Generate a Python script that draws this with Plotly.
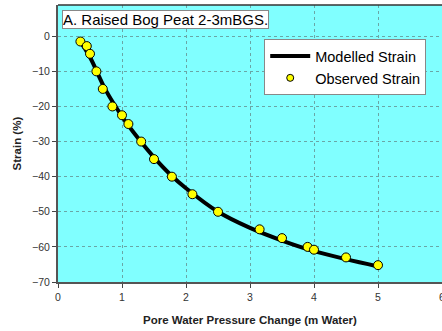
import plotly.graph_objects as go

# Observed data
obs_x = [0.35, 0.45, 0.5, 0.6, 0.7, 0.85, 1.0, 1.1, 1.3, 1.5, 1.78, 2.1, 2.5, 3.15, 3.5, 3.9, 4.0, 4.5, 5.0]
obs_y = [-1.5, -2.8, -5, -10, -15, -20, -22.5, -25, -30, -35, -40, -45, -50, -55, -57.5, -60, -60.8, -63, -65.2]

# Modelled curve
mod_x = [0.33, 0.5, 0.75, 1.0, 1.25, 1.5, 1.75, 2.0, 2.5, 3.0, 3.5, 4.0, 4.5, 5.0]
mod_y = [-1.0, -6.0, -15.5, -22.8, -29.0, -34.5, -39.3, -43.3, -50.0, -54.6, -58.2, -61.2, -63.5, -65.6]

x_ticks = [0, 1, 2, 3, 4, 5, 6]
y_ticks = [0, -10, -20, -30, -40, -50, -60, -70]

fig = go.Figure()
fig.add_trace(go.Scatter(x=mod_x, y=mod_y, mode="lines", name="Modelled Strain",
                         showlegend=False,
                         line=dict(color="black", width=4, shape="spline")))
fig.add_trace(go.Scatter(x=obs_x, y=obs_y, mode="markers", name="Observed Strain",
                         showlegend=False,
                         marker=dict(color="#FFFF00", size=9, line=dict(color="black", width=1))))
# legend entries
fig.add_trace(go.Scatter(x=[None], y=[None], mode="lines", name="Modelled Strain",
                         line=dict(color="black", width=4)))
fig.add_trace(go.Scatter(x=[None], y=[None], mode="markers", name="Observed Strain",
                         marker=dict(color="#FFFF00", size=7, line=dict(color="black", width=1))))

fig.update_layout(
    width=442, height=331,
    margin=dict(l=58, r=0, t=5, b=49),
    paper_bgcolor="white", plot_bgcolor="#80FFFF",
    font=dict(family="Liberation Sans, Arial, sans-serif", color="#333333"),
    showlegend=True,
    legend=dict(x=0.537, y=0.877, xanchor="left", yanchor="top",
                bgcolor="white", bordercolor="#888888", borderwidth=1,
                font=dict(size=14.5, color="black"), tracegroupgap=0,
                itemwidth=40),
    xaxis=dict(range=[0, 6], tickvals=x_ticks, ticks="outside", ticklen=4,
               automargin=False, ticklabeloverflow="allow",
               tickcolor="#444444", tickfont=dict(size=10.5, color="#333333"),
               showline=True, linecolor="#555555", linewidth=2, mirror=False,
               showgrid=True, gridcolor="#6aa6a6", griddash="dot", gridwidth=1,
               zeroline=False),
    yaxis=dict(range=[-70, 8.9], tickvals=y_ticks, ticks="outside", ticklen=4,
               automargin=False,
               tickcolor="#444444", tickfont=dict(size=10.5, color="#333333"),
               showline=True, linecolor="#555555", linewidth=2,
               showgrid=True, gridcolor="#6aa6a6", griddash="dot", gridwidth=1,
               zeroline=False),
)

# top border
fig.add_shape(type="line", xref="paper", yref="paper", x0=0, x1=1, y0=1, y1=1,
              line=dict(color="#333333", width=1.5))

fig.add_annotation(xref="paper", yref="paper", x=0.011, y=0.982, xanchor="left", yanchor="top",
                   text="A. Raised Bog Peat 2-3mBGS.", showarrow=False,
                   font=dict(size=15, color="black"), bgcolor="white",
                   bordercolor="#888888", borderwidth=1, borderpad=0)

# axis titles
fig.add_annotation(xref="paper", yref="paper", x=0.5, y=-0.137, yanchor="middle",
                   text="<b>Pore Water Pressure Change (m Water)</b>",
                   showarrow=False, font=dict(size=11.5, color="#222222"))
fig.add_annotation(xref="paper", yref="paper", x=-0.107, y=0.5, xanchor="center",
                   yanchor="middle", text="<b>Strain (%)</b>", textangle=-90,
                   showarrow=False, font=dict(size=11.5, color="#222222"))

fig.write_html("out.html", config={"displayModeBar": False},
               post_script="document.body.style.margin='0';document.body.style.overflow='hidden';")
